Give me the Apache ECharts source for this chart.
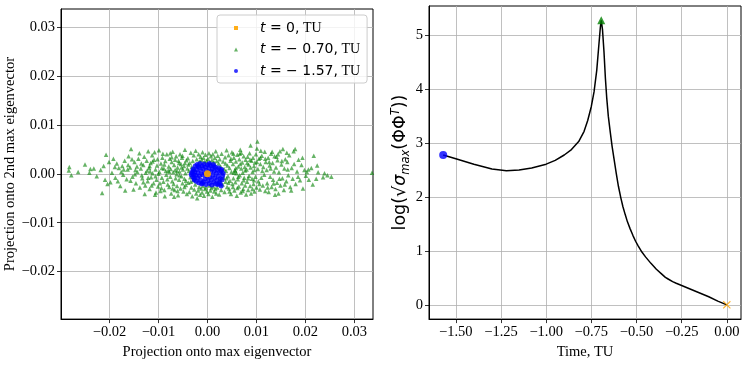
<!DOCTYPE html>
<html><head><meta charset="utf-8">
<script src="https://cdn.jsdelivr.net/npm/echarts@6/dist/echarts.min.js"></script>
<style>html,body{margin:0;padding:0;background:#fff}#c{width:747px;height:365px}</style>
</head><body><div id="c"></div>
<script>
// ---------- Left panel data (projections) ----------
const greenPts = [
[-0.0282,0.0014],[-0.0278,-0.0003],[-0.0283,0.0007],[-0.0250,0.0019],[-0.0241,0.0002],[-0.0239,0.0010],[-0.0207,0.0039],[-0.0215,-0.0039],[-0.0209,-0.0012],[-0.0218,0.0008],[-0.0226,-0.0005],[-0.0201,0.0024],[-0.0204,-0.0021],
[-0.0192,0.0031],[-0.0174,0.0016],[-0.0195,0.0002],[-0.0188,-0.0008],[-0.0181,0.0012],[-0.0178,-0.0025],[-0.0169,0.0027],[-0.0165,-0.0011],[-0.0185,0.0021],[-0.0172,-0.0002],[-0.0163,0.0009],[-0.0198,-0.0017],[-0.0176,0.0004],[-0.0168,-0.0034],[-0.0161,0.0036],
[-0.0156,0.0051],[-0.0158,0.0013],[-0.0153,-0.0006],[-0.0149,0.0024],[-0.0146,-0.0019],[-0.0143,0.0004],[-0.0141,0.0031],[-0.0138,-0.0028],[-0.0136,0.0011],[-0.0133,-0.0009],[-0.0131,0.0018],[-0.0128,-0.0041],[-0.0126,0.0002],[-0.0124,0.0027],[-0.0122,-0.0015],[-0.0151,-0.0032],[-0.0139,0.0042],[-0.0129,0.0035],[-0.0144,0.0015],[-0.0134,-0.0003],[-0.0123,0.0007],[-0.0157,-0.0014],[-0.0147,0.0008],[-0.0127,-0.0024],[-0.0121,0.0046],
[-0.0119,0.0012],[-0.0118,-0.0031],[-0.0116,0.0022],[-0.0115,-0.0007],[-0.0113,0.0038],[-0.0112,0.0001],[-0.0110,-0.0019],[-0.0109,0.0029],[-0.0107,-0.0043],[-0.0106,0.0009],[-0.0104,-0.0012],[-0.0103,0.0017],[-0.0101,-0.0026],[-0.0099,0.0048],[-0.0098,0.0004],[-0.0096,-0.0035],[-0.0095,0.0021],[-0.0093,-0.0008],[-0.0092,0.0033],[-0.0090,-0.0016],[-0.0089,0.0011],[-0.0087,-0.0046],[-0.0086,0.0026],[-0.0084,-0.0002],[-0.0083,0.0040],[-0.0081,-0.0022],[-0.0080,0.0007],[-0.0114,-0.0024],[-0.0108,0.0044],[-0.0100,0.0000],[-0.0094,-0.0029],[-0.0088,0.0019],[-0.0082,-0.0011],[-0.0117,0.0005],[-0.0091,0.0041],[-0.0105,-0.0038],
[-0.0079,0.0015],[-0.0078,-0.0027],[-0.0077,0.0031],[-0.0076,-0.0006],[-0.0075,0.0010],[-0.0074,-0.0040],[-0.0073,0.0024],[-0.0072,-0.0015],[-0.0071,0.0045],[-0.0070,0.0003],[-0.0069,-0.0021],[-0.0068,0.0018],[-0.0067,-0.0033],[-0.0066,0.0008],[-0.0065,-0.0009],[-0.0064,0.0036],[-0.0063,-0.0001],[-0.0062,-0.0025],[-0.0061,0.0013],[-0.0060,-0.0044],[-0.0059,0.0027],[-0.0058,-0.0012],[-0.0057,0.0005],[-0.0056,0.0040],[-0.0055,-0.0030],[-0.0054,0.0020],[-0.0053,-0.0005],[-0.0052,0.0033],[-0.0051,-0.0019],[-0.0050,0.0009],[-0.0049,-0.0036],[-0.0048,0.0016],[-0.0047,-0.0010],[-0.0046,0.0049],[-0.0045,0.0001],[-0.0044,-0.0023],[-0.0043,0.0028],[-0.0042,-0.0041],[-0.0041,0.0011],[-0.0076,0.0042],[-0.0068,-0.0047],[-0.0058,0.0022],[-0.0051,0.0037],[-0.0044,-0.0014],[-0.0062,0.0006],
[-0.0040,0.0032],[-0.0039,-0.0018],[-0.0038,0.0006],[-0.0037,-0.0037],[-0.0036,0.0022],[-0.0035,-0.0007],[-0.0034,0.0043],[-0.0033,-0.0028],[-0.0032,0.0014],[-0.0031,-0.0046],[-0.0030,0.0026],[-0.0029,-0.0013],[-0.0028,0.0038],[-0.0027,-0.0032],[-0.0026,0.0009],[-0.0025,-0.0022],[-0.0024,0.0047],[-0.0023,-0.0040],[-0.0022,0.0030],[-0.0021,-0.0050],[-0.0020,0.0018],[-0.0019,-0.0034],[-0.0018,0.0040],[-0.0017,-0.0027],[-0.0016,0.0025],[-0.0015,-0.0043],[-0.0014,0.0035],[-0.0013,-0.0030],[-0.0012,0.0029],[-0.0011,-0.0038],[-0.0010,0.0044],[-0.0009,-0.0025],[-0.0008,0.0033],[-0.0007,-0.0045],[-0.0006,0.0024],[-0.0005,-0.0031],[-0.0004,0.0039],[-0.0003,-0.0028],[-0.0002,0.0027],[-0.0001,-0.0036],
[0.0001,0.0031],[0.0002,-0.0041],[0.0003,0.0042],[0.0004,-0.0024],[0.0005,0.0023],[0.0006,-0.0034],[0.0007,0.0036],[0.0008,-0.0029],[0.0009,0.0028],[0.0010,-0.0047],[0.0011,0.0040],[0.0012,-0.0026],[0.0013,0.0024],[0.0014,-0.0036],[0.0015,0.0033],[0.0016,-0.0031],[0.0017,0.0046],[0.0018,-0.0040],[0.0019,0.0026],[0.0020,-0.0028],[0.0021,0.0037],[0.0022,-0.0019],[0.0023,0.0021],[0.0024,-0.0042],[0.0025,0.0030],[0.0026,-0.0012],[0.0027,0.0015],[0.0028,-0.0033],[0.0029,0.0041],[0.0030,0.0003],[0.0031,-0.0022],[0.0032,0.0025],[0.0033,-0.0008],[0.0034,0.0010],[0.0035,-0.0037],[0.0036,0.0034],[0.0037,-0.0016],[0.0038,0.0006],[0.0039,0.0048],[0.0040,-0.0027],
[0.0041,0.0017],[0.0042,-0.0005],[0.0043,0.0038],[0.0044,-0.0030],[0.0045,0.0012],[0.0046,-0.0014],[0.0047,0.0027],[0.0048,-0.0041],[0.0049,0.0004],[0.0050,0.0044],[0.0051,-0.0021],[0.0052,0.0020],[0.0053,-0.0009],[0.0054,0.0033],[0.0055,-0.0034],[0.0056,0.0008],[0.0057,-0.0017],[0.0058,0.0025],[0.0059,0.0001],[0.0060,-0.0045],[0.0061,0.0039],[0.0062,-0.0011],[0.0063,0.0015],[0.0064,-0.0026],[0.0065,0.0030],[0.0066,-0.0003],[0.0067,0.0049],[0.0068,-0.0038],[0.0069,0.0011],[0.0070,-0.0019],[0.0071,0.0023],[0.0072,0.0002],[0.0073,-0.0031],[0.0074,0.0036],[0.0075,-0.0008],[0.0076,0.0014],[0.0077,-0.0024],[0.0078,0.0029],[0.0079,-0.0042],[0.0045,-0.0036],[0.0053,0.0041],[0.0061,-0.0029],[0.0069,0.0043],[0.0074,-0.0013],[0.0057,0.0006],
[0.0080,0.0009],[0.0081,-0.0016],[0.0082,0.0035],[0.0083,-0.0033],[0.0084,0.0019],[0.0085,-0.0004],[0.0086,0.0042],[0.0087,-0.0025],[0.0088,0.0013],[0.0089,-0.0040],[0.0090,0.0027],[0.0091,-0.0010],[0.0092,0.0004],[0.0093,0.0033],[0.0094,-0.0021],[0.0095,0.0016],[0.0096,-0.0036],[0.0097,0.0023],[0.0098,-0.0006],[0.0099,0.0040],[0.0100,-0.0028],[0.0102,0.0066],[0.0103,0.0010],[0.0104,-0.0015],[0.0105,0.0031],[0.0107,-0.0032],[0.0108,0.0020],[0.0110,-0.0008],[0.0111,0.0037],[0.0113,-0.0024],[0.0114,0.0014],[0.0116,-0.0002],[0.0117,0.0045],[0.0118,-0.0035],[0.0119,0.0024],[0.0088,0.0058],[0.0101,0.0052],[0.0109,0.0047],
[0.0121,0.0008],[0.0122,-0.0019],[0.0124,0.0033],[0.0125,-0.0037],[0.0127,0.0017],[0.0128,-0.0006],[0.0130,0.0041],[0.0131,-0.0027],[0.0133,0.0022],[0.0134,-0.0012],[0.0136,0.0005],[0.0137,0.0036],[0.0139,-0.0031],[0.0140,0.0013],[0.0142,-0.0018],[0.0143,0.0028],[0.0145,-0.0040],[0.0146,0.0003],[0.0148,0.0046],[0.0149,-0.0024],[0.0151,0.0019],[0.0153,-0.0009],[0.0154,0.0051],[0.0156,-0.0033],[0.0157,0.0011],[0.0159,0.0030],[0.0132,0.0045],[0.0138,-0.0043],
[0.0161,-0.0015],[0.0163,0.0024],[0.0165,-0.0003],[0.0167,0.0038],[0.0169,-0.0027],[0.0172,0.0012],[0.0174,-0.0010],[0.0176,0.0046],[0.0179,0.0051],[0.0180,-0.0021],[0.0183,0.0005],[0.0186,0.0029],[0.0189,-0.0013],[0.0192,0.0018],[0.0195,-0.0030],[0.0198,0.0008],
[0.0201,-0.0004],[0.0203,0.0004],[0.0207,-0.0012],[0.0212,0.0012],[0.0217,0.0037],[0.0224,0.0017],[0.0222,-0.0010],[0.0226,0.0003],[0.0236,-0.0007],[0.0239,0.0001],[0.0245,-0.0003],[0.0253,-0.0006],[0.0336,0.0002],
[-0.0112,0.0025],[-0.0097,-0.0019],[-0.0085,0.0006],[-0.0071,-0.0030],[-0.0066,0.0029],[-0.0053,0.0013],[-0.0047,-0.0027],[-0.0039,0.0019],[-0.0034,-0.0016],[-0.0029,0.0008],[-0.0057,-0.0003],[-0.0078,0.0004],[-0.0093,0.0012],[-0.0106,-0.0005],[-0.0121,-0.0008],[-0.0135,0.0021],[-0.0148,-0.0001],[-0.0162,0.0018],[-0.0183,-0.0015],[-0.0212,0.0016],
[0.0037,0.0021],[0.0043,-0.0018],[0.0048,0.0031],[0.0052,-0.0027],[0.0058,0.0012],[0.0063,-0.0006],[0.0067,0.0020],[0.0072,-0.0035],[0.0077,0.0007],[0.0083,-0.0009],[0.0087,0.0029],[0.0092,-0.0031],[0.0096,0.0008],[0.0101,0.0024],[0.0106,-0.0021],[0.0112,0.0006],[0.0118,0.0031],[0.0123,-0.0028],[0.0129,0.0011],[0.0135,-0.0020],[0.0141,0.0035],[0.0147,-0.0010],[0.0152,0.0026],[0.0158,-0.0022],[0.0164,0.0009],[0.0171,-0.0034],[0.0177,0.0020],[0.0185,-0.0006],[0.0194,0.0033],[0.0206,0.0009],[0.0215,-0.0022],
[0.0039,-0.0009],[0.0054,0.0002],[0.0066,0.0041],[0.0081,0.0022],[0.0095,-0.0013],[0.0108,0.0033],[0.0126,0.0024],[0.0144,0.0040],[0.0162,0.0043],
[-0.0046,0.0022],[-0.0061,-0.0035],[-0.0073,0.0034],[-0.0088,-0.0033],[-0.0102,0.0030],[-0.0118,0.0016],[-0.0131,-0.0017],[-0.0154,0.0030],[-0.0171,0.0009],[-0.0189,0.0014],[-0.0232,0.0011],[-0.0264,0.0004]
];
const bluePts = [
[-0.0032,0.0002],[-0.0030,-0.0006],[-0.0029,0.0010],[-0.0027,-0.0012],[-0.0026,0.0004],[-0.0025,0.0016],[-0.0024,-0.0003],[-0.0023,-0.0015],[-0.0022,0.0009],[-0.0021,0.0019],[-0.0020,-0.0008],[-0.0019,0.0002],[-0.0018,-0.0018],[-0.0017,0.0013],[-0.0016,-0.0004],[-0.0015,0.0021],[-0.0014,-0.0013],[-0.0013,0.0006],[-0.0012,-0.0021],[-0.0011,0.0016],[-0.0010,-0.0002],[-0.0009,0.0011],[-0.0008,-0.0016],[-0.0007,0.0020],[-0.0006,0.0001],[-0.0005,-0.0010],[-0.0004,0.0014],[-0.0003,-0.0022],[-0.0002,0.0007],[-0.0001,-0.0005],[0.0000,0.0018],[0.0001,-0.0014],[0.0002,0.0003],[0.0003,0.0012],[0.0004,-0.0020],[0.0005,-0.0007],[0.0006,0.0017],[0.0007,0.0005],[0.0008,-0.0012],[0.0009,-0.0023],[0.0010,0.0010],[0.0011,-0.0003],[0.0012,0.0019],[0.0013,-0.0017],[0.0014,0.0006],[0.0015,-0.0008],[0.0016,0.0014],[0.0017,-0.0021],[0.0018,0.0001],[0.0019,-0.0013],[0.0020,0.0009],[0.0021,-0.0022],[0.0022,-0.0005],[0.0023,0.0012],[0.0024,-0.0018],[0.0025,0.0003],[0.0026,-0.0010],[0.0026,-0.0021],[0.0028,0.0006],[0.0030,-0.0012],[0.0031,-0.0004],[0.0028,-0.0025],[-0.0028,-0.0002],[-0.0019,0.0015],[-0.0010,-0.0019],[0.0004,0.0021],[0.0013,0.0015],[-0.0033,-0.0002],[0.0032,0.0001],[-0.0030,0.0006],[-0.0027,-0.0009],[0.0029,0.0009]
];
const orangePts = [[0, 0]];

// ---------- Right panel data (curve) ----------
const timeTU = [-1.57,-1.50,-1.40,-1.30,-1.22,-1.15,-1.08,-1.00,-0.95,-0.90,-0.86,-0.82,-0.79,-0.77,-0.75,-0.735,-0.72,-0.71,-0.70,-0.695,-0.688,-0.68,-0.672,-0.665,-0.656,-0.645,-0.635,-0.625,-0.612,-0.60,-0.587,-0.575,-0.562,-0.55,-0.535,-0.52,-0.505,-0.49,-0.47,-0.45,-0.42,-0.39,-0.36,-0.34,-0.325,-0.30,-0.28,-0.25,-0.20,-0.15,-0.10,-0.05,0.00];
const logSigma = [2.78,2.71,2.61,2.52,2.49,2.50,2.54,2.61,2.68,2.78,2.88,3.03,3.22,3.42,3.68,3.95,4.35,4.75,5.15,5.28,5.10,4.70,4.20,3.85,3.50,3.20,2.94,2.72,2.44,2.20,1.99,1.82,1.67,1.54,1.41,1.29,1.18,1.09,0.98,0.89,0.77,0.66,0.57,0.51,0.48,0.43,0.40,0.36,0.29,0.22,0.15,0.07,0.00];
const startPt = [-1.57, 2.78];
const peakPt = [-0.695, 5.28];
const endPt = [0.00, 0.00];

// ---------- Tick labels ----------
const projTicks = [-0.02, -0.01, 0.00, 0.01, 0.02, 0.03];
const timeTicks = [-1.50, -1.25, -1.00, -0.75, -0.50, -0.25, 0.00];
const logTicks = [0, 1, 2, 3, 4, 5];
const legendNames = ['t = 0, TU', 't = \u22120.70, TU', 't = \u22121.57, TU'];
const legendValues = ['0', '\u2212 0.70', '\u2212 1.57'];

const serif = '"Liberation Serif", "Times New Roman", serif';
const sans = '"DejaVu Sans", sans-serif';
const fmt2 = v => (v < 0 ? '\u2212' : '') + Math.abs(v).toFixed(2);

function valAxis(gi, min, max, ticks, formatter, extra) {
  return Object.assign({
    type: 'value', gridIndex: gi, min: min, max: max,
    axisLine: { show: true, onZero: false, lineStyle: { color: '#000', width: 1 } },
    axisTick: { show: true, inside: false, length: 4, lineStyle: { color: '#000', width: 0.8 }, customValues: ticks },
    axisLabel: { show: true, margin: 6, color: '#000', fontFamily: serif, fontSize: 14.5, formatter: formatter, customValues: ticks },
    splitLine: { show: true, lineStyle: { color: '#b0b0b0', width: 0.8 } },
    nameLocation: 'middle',
    nameTextStyle: { color: '#000', fontFamily: serif, fontSize: 14.5 }
  }, extra || {});
}

const chart = echarts.init(document.getElementById('c'), null, { renderer: 'canvas' });
chart.setOption({
  animation: false,
  backgroundColor: '#fff',
  grid: [
    { left: 61, top: 9, width: 312, height: 311, show: true, borderColor: '#000', borderWidth: 1, backgroundColor: 'transparent' },
    { left: 429, top: 6, width: 312, height: 317, show: true, borderColor: '#000', borderWidth: 1, backgroundColor: 'transparent' }
  ],
  xAxis: [
    valAxis(0, -0.0299, 0.0338, projTicks, fmt2, { name: 'Projection onto max eigenvector', nameGap: 21 }),
    valAxis(1, -1.6485, 0.0785, timeTicks, fmt2, { name: 'Time, TU', nameGap: 21 })
  ],
  yAxis: [
    valAxis(0, -0.0297, 0.0337, projTicks, fmt2, { name: 'Projection onto 2nd max eigenvector', nameGap: 40 }),
    valAxis(1, -0.264, 5.544, logTicks, v => String(v), {
      name: '{a|log(\u221A}{i|\u03C3}{sub|max}{a|(\u03A6\u03A6}{sup|T}{a|))}',
      nameGap: 13,
      nameTextStyle: {
        color: '#000', fontFamily: sans, fontSize: 17,
        rich: {
          a: { fontFamily: sans, fontSize: 17.5, color: '#000', lineHeight: 22 },
          i: { fontFamily: sans, fontStyle: 'italic', fontSize: 17.5, color: '#000', lineHeight: 22 },
          sub: { fontFamily: sans, fontStyle: 'italic', fontSize: 11.5, color: '#000', verticalAlign: 'bottom', lineHeight: 22, padding: [8, 0, 0, 0] },
          sup: { fontFamily: sans, fontStyle: 'italic', fontSize: 11.5, color: '#000', verticalAlign: 'top', lineHeight: 22, padding: [0, 0, 8, 0] }
        }
      }
    })
  ],
  legend: {
    left: 217, top: 15,
    orient: 'vertical',
    selectedMode: false,
    data: [
      { name: legendNames[0], icon: 'rect' },
      { name: legendNames[1], icon: 'triangle' },
      { name: legendNames[2], icon: 'circle' }
    ],
    itemWidth: 4, itemHeight: 4, itemGap: 7.5,
    padding: [6, 7, 5, 17],
    backgroundColor: 'rgba(255,255,255,0.8)',
    borderColor: '#cccccc', borderWidth: 1, borderRadius: 3,
    formatter: function (name) {
      const idx = legendNames.indexOf(name);
      return '{sp|}{it|t}{m| = ' + legendValues[idx] + ',}{s| TU}';
    },
    textStyle: {
      color: '#000',
      rich: {
        sp: { width: 17, lineHeight: 16 },
        it: { fontFamily: sans, fontStyle: 'italic', fontSize: 14, color: '#000', lineHeight: 16 },
        m: { fontFamily: sans, fontSize: 14, color: '#000', lineHeight: 16 },
        s: { fontFamily: serif, fontSize: 14, color: '#000', lineHeight: 16 }
      }
    }
  },
  series: [
    { name: legendNames[1], type: 'scatter', xAxisIndex: 0, yAxisIndex: 0, data: greenPts,
      symbol: 'triangle', symbolSize: 4.5, itemStyle: { color: '#008000', opacity: 0.6 }, z: 2 },
    { name: legendNames[2], type: 'scatter', xAxisIndex: 0, yAxisIndex: 0, data: bluePts,
      symbol: 'circle', symbolSize: 5, itemStyle: { color: '#0000ff', opacity: 0.8 }, z: 3 },
    { name: legendNames[0], type: 'scatter', xAxisIndex: 0, yAxisIndex: 0, data: orangePts,
      symbol: 'circle', symbolSize: 7, itemStyle: { color: '#ffa500', opacity: 0.9 }, z: 4 },
    { type: 'line', xAxisIndex: 1, yAxisIndex: 1, data: timeTU.map((t, i) => [t, logSigma[i]]),
      showSymbol: false, symbol: 'none', lineStyle: { color: '#000', width: 1.5 }, z: 2 },
    { type: 'scatter', xAxisIndex: 1, yAxisIndex: 1, data: [startPt], symbol: 'circle', symbolSize: 8,
      itemStyle: { color: '#0000ff' }, z: 5 },
    { type: 'scatter', xAxisIndex: 1, yAxisIndex: 1, data: [peakPt], symbol: 'triangle', symbolSize: 8,
      itemStyle: { color: '#008000' }, z: 5 },
    { type: 'scatter', xAxisIndex: 1, yAxisIndex: 1, data: [endPt],
      symbol: 'path://M0,1 L1,0 L5,4 L9,0 L10,1 L6,5 L10,9 L9,10 L5,6 L1,10 L0,9 L4,5 Z', symbolSize: 8,
      itemStyle: { color: '#ffa500' }, z: 5 }
  ]
});
</script></body></html>
